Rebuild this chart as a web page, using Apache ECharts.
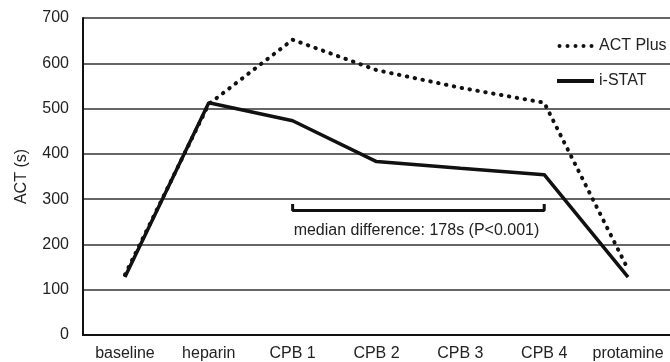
<!DOCTYPE html>
<html><head><meta charset="utf-8">
<script src="https://cdn.jsdelivr.net/npm/echarts@6/dist/echarts.min.js"></script>
<style>html,body{margin:0;padding:0;background:#fff}#c{width:670px;height:362px}</style>
</head><body><div id="c"></div>
<script>
const categories = ['baseline','heparin','CPB 1','CPB 2','CPB 3','CPB 4','protamine'];
const actPlus = [133, 510, 652, 585, 546, 513, 145];
const iStat = [128, 513, 473, 383, 368, 354, 128];
const yTicks = [0,100,200,300,400,500,600,700];
const bracketFrom = 'CPB 1', bracketTo = 'CPB 4';
const bracketLow = 275, bracketHigh = 289;
const annotation = 'median difference: 178s (P<0.001)';

const font = 'Liberation Sans, Arial, sans-serif';
const dotsIcon = 'path://M2,0A2,2 0 1,1 2,4A2,2 0 1,1 2,0Z M10,0A2,2 0 1,1 10,4A2,2 0 1,1 10,0Z M18,0A2,2 0 1,1 18,4A2,2 0 1,1 18,0Z M26,0A2,2 0 1,1 26,4A2,2 0 1,1 26,0Z M34,0A2,2 0 1,1 34,4A2,2 0 1,1 34,0Z';
const chart = echarts.init(document.getElementById('c'), null, {renderer:'canvas'});
const i0 = categories.indexOf(bracketFrom), i1 = categories.indexOf(bracketTo);
chart.setOption({
  animation:false,
  textStyle:{fontFamily:font},
  grid:{left:83,right:0,top:18,bottom:26,containLabel:false},
  legend:{
    orient:'vertical', left:552, top:33, padding:5, itemGap:19, itemWidth:37, itemHeight:4,
    textStyle:{fontSize:16,color:'#222',fontFamily:font},
    data:[{name:'ACT Plus',icon:dotsIcon,itemStyle:{color:'#111'}},
          {name:'i-STAT',icon:'rect',itemStyle:{color:'#111'}}]
  },
  xAxis:{
    type:'category', data:categories, boundaryGap:true,
    axisLine:{lineStyle:{color:'#111',width:2}},
    axisTick:{show:false},
    axisLabel:{fontSize:16,color:'#222',margin:11,interval:0}
  },
  yAxis:{
    type:'value', min:0, max:700, interval:100,
    name:'ACT (s)', nameLocation:'middle', nameGap:53, nameRotate:90,
    nameTextStyle:{fontSize:16,color:'#222'},
    axisLine:{show:true,lineStyle:{color:'#111',width:2}},
    axisTick:{show:false},
    axisLabel:{fontSize:16,color:'#222',margin:14,
      formatter:v=>yTicks.includes(v)?String(v):''},
    splitLine:{lineStyle:{color:'#333',width:1.5}}
  },
  series:[
    {name:'ACT Plus', type:'line', data:actPlus, symbol:'none',
     lineStyle:{color:'#111',width:4,type:[0.5,7.5],cap:'round'},
     itemStyle:{color:'#111'}, z:3},
    {name:'i-STAT', type:'line', data:iStat, symbol:'none',
     lineStyle:{color:'#111',width:3.5}, itemStyle:{color:'#111'}, z:4},
    {name:'bracket', type:'line', symbol:'none', silent:true,
     data:[[i0+0.04,bracketHigh],[i0+0.04,bracketLow],[i1-0.01,bracketLow],[i1-0.01,bracketHigh]],
     lineStyle:{color:'#111',width:3}, z:2}
  ]
});
const p = chart.convertToPixel({seriesIndex:2},[i0+0.04,bracketLow]);
chart.setOption({graphic:[{type:'text',left:p[0]+1,top:p[1]+12,
  style:{text:annotation,font:'16px '+font,fill:'#222'}}]});
</script></body></html>
